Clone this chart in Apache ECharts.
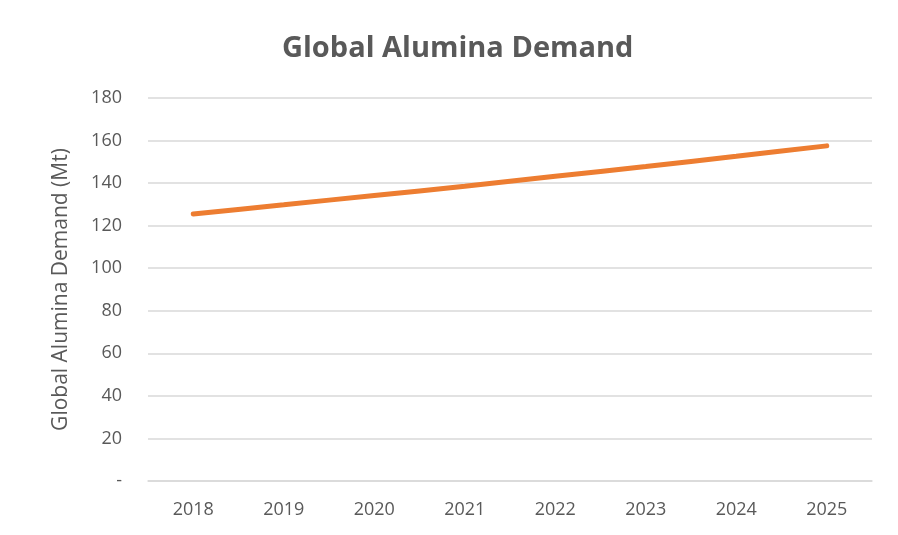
<!DOCTYPE html>
<html><head><meta charset="utf-8">
<script src="https://cdn.jsdelivr.net/npm/echarts@6/dist/echarts.min.js"></script>
<style>html,body{margin:0;padding:0;background:#fff}#c{width:898px;height:535px}</style>
</head><body><div id="c"></div>
<script>
const categories = ['2018','2019','2020','2021','2022','2023','2024','2025'];
const demand = [125.5, 129.8, 134.2, 138.5, 143.2, 147.8, 152.6, 157.5];
const chart = echarts.init(document.getElementById('c'));
const font = 'Open Sans, Liberation Sans, sans-serif';
chart.setOption({
  animation: false,
  title: {text: 'Global Alumina Demand', left: 277, top: 29,
    textStyle: {fontFamily: font, fontSize: 29, fontWeight: 'bold', color: '#595959'}},
  grid: {left: 148, right: 26, top: 98, bottom: 54},
  xAxis: {type: 'category', data: categories, boundaryGap: true,
    axisLine: {lineStyle: {color: '#d9d9d9', width: 1.5}}, axisTick: {show: false},
    axisLabel: {fontFamily: font, fontSize: 18, color: '#595959', margin: 20}},
  yAxis: {type: 'value', min: 0, max: 180, interval: 20,
    name: 'Global Alumina Demand (Mt)', nameLocation: 'middle', nameGap: 76,
    nameTextStyle: {fontFamily: font, fontSize: 21, color: '#595959'},
    axisLine: {show: false}, axisTick: {show: false},
    splitLine: {lineStyle: {color: '#d9d9d9', width: 1.5}},
    axisLabel: {fontFamily: font, fontSize: 18, color: '#595959', margin: 26,
      formatter: v => v === 0 ? '-' : String(v)}},
  series: [{type: 'line', data: demand, smooth: 0.2, symbol: 'none',
    lineStyle: {color: '#ED7D31', width: 5, cap: 'round'}}]
});
</script></body></html>
